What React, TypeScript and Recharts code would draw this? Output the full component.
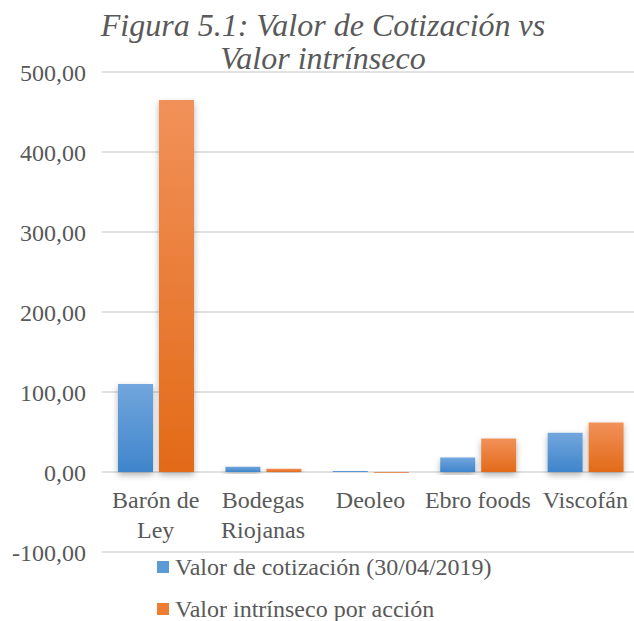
import React from 'react';
import { BarChart, Bar, XAxis, YAxis, CartesianGrid, Legend } from 'recharts';

// Figura 5.1: Valor de Cotización vs Valor intrínseco

const companies = ['Barón de\nLey', 'Bodegas\nRiojanas', 'Deoleo', 'Ebro foods', 'Viscofán'];
const cotizacion = [110, 6.5, 1.2, 18, 49];
const intrinseco = [465, 4, -1, 42, 62];
const yTicks = [-100, 0, 100, 200, 300, 400, 500];

const data = companies.map((name, i) => ({
  name,
  cotizacion: cotizacion[i],
  intrinseco: intrinseco[i],
}));

const W = 634;
const H = 621;
const TOP = 72;
const BOTTOM = 69;
const X_AXIS_H = 30;
const Y_MIN = -100;
const Y_MAX = 500;
const ZERO_Y = TOP + ((H - TOP - BOTTOM) * (Y_MAX - 0)) / (Y_MAX - Y_MIN);

const FONT = '"Liberation Serif", "Times New Roman", serif';
const GREY = '#595959';
const MARKERS: Record<string, string> = { cotizacion: '#5B9BD5', intrinseco: '#ED7D31' };

const fmt = (v: number) => v.toFixed(2).replace('.', ',');

const CategoryTick = (props: any) => {
  const { x, payload } = props;
  const lines = String(payload.value).split('\n');
  return (
    <text x={x} y={ZERO_Y + 36} textAnchor="middle" fill={GREY} fontSize={24} fontFamily={FONT}>
      {lines.map((l, i) => (
        <tspan key={i} x={x} dy={i === 0 ? 0 : 30}>
          {l}
        </tspan>
      ))}
    </text>
  );
};

const LegendContent = (props: any) => {
  const items = props.payload || [];
  return (
    <div style={{ fontFamily: FONT, fontSize: 24, color: GREY, lineHeight: '42px' }}>
      {items.map((it: any) => (
        <div key={it.value} style={{ display: 'flex', alignItems: 'center', height: 42 }}>
          <span
            style={{
              display: 'inline-block',
              width: 12,
              height: 12,
              background: MARKERS[it.dataKey] || it.color,
              marginRight: 6,
            }}
          />
          <span>{it.value}</span>
        </div>
      ))}
    </div>
  );
};

export default function App() {
  return (
    <div style={{ position: 'absolute', left: 0, top: 0, width: W, height: H, background: '#fff', overflow: 'hidden' }}>
      <BarChart
        width={W}
        height={H}
        data={data}
        margin={{ top: TOP, right: -5, bottom: BOTTOM - X_AXIS_H, left: 0 }}
        barSize={35}
        barGap={6}
      >
        <defs>
          <linearGradient id="gBlue" x1="0" y1="0" x2="0" y2="1">
            <stop offset="0%" stopColor="#72A6DD" />
            <stop offset="100%" stopColor="#3F85CB" />
          </linearGradient>
          <linearGradient id="gOrange" x1="0" y1="0" x2="0" y2="1">
            <stop offset="0%" stopColor="#F1915A" />
            <stop offset="100%" stopColor="#E26A18" />
          </linearGradient>
          <filter id="shadow" x="-30%" y="-10%" width="160%" height="130%">
            <feDropShadow dx="0" dy="3" stdDeviation="3" floodColor="#000" floodOpacity="0.3" />
          </filter>
        </defs>
        <CartesianGrid vertical={false} stroke="#D9D9D9" strokeWidth={1.5} />
        <XAxis
          dataKey="name"
          height={X_AXIS_H}
          axisLine={false}
          tickLine={false}
          tick={<CategoryTick />}
          interval={0}
        />
        <YAxis
          width={102}
          domain={[Y_MIN, Y_MAX]}
          ticks={yTicks}
          tickFormatter={fmt}
          axisLine={false}
          tickLine={false}
          tickSize={14}
          tick={{ fill: GREY, fontSize: 24, fontFamily: FONT }}
        />
        <Legend
          layout="vertical"
          align="center"
          verticalAlign="middle"
          content={<LegendContent />}
          wrapperStyle={{ top: 546, left: 157, width: 420 }}
        />
        <Bar
          dataKey="cotizacion"
          name="Valor de cotización (30/04/2019)"
          fill="url(#gBlue)"
          filter="url(#shadow)"
          legendType="square"
          isAnimationActive={false}
        />
        <Bar
          dataKey="intrinseco"
          name="Valor intrínseco por acción"
          fill="url(#gOrange)"
          filter="url(#shadow)"
          legendType="square"
          isAnimationActive={false}
        />
      </BarChart>
      <div
        style={{
          position: 'absolute',
          left: 0,
          top: 9,
          width: W + 12,
          textAlign: 'center',
          fontFamily: FONT,
          fontStyle: 'italic',
          fontSize: 32,
          lineHeight: '33px',
          color: GREY,
          pointerEvents: 'none',
        }}
      >
        Figura 5.1: Valor de Cotización vs
        <br />
        Valor intrínseco
      </div>
    </div>
  );
}
